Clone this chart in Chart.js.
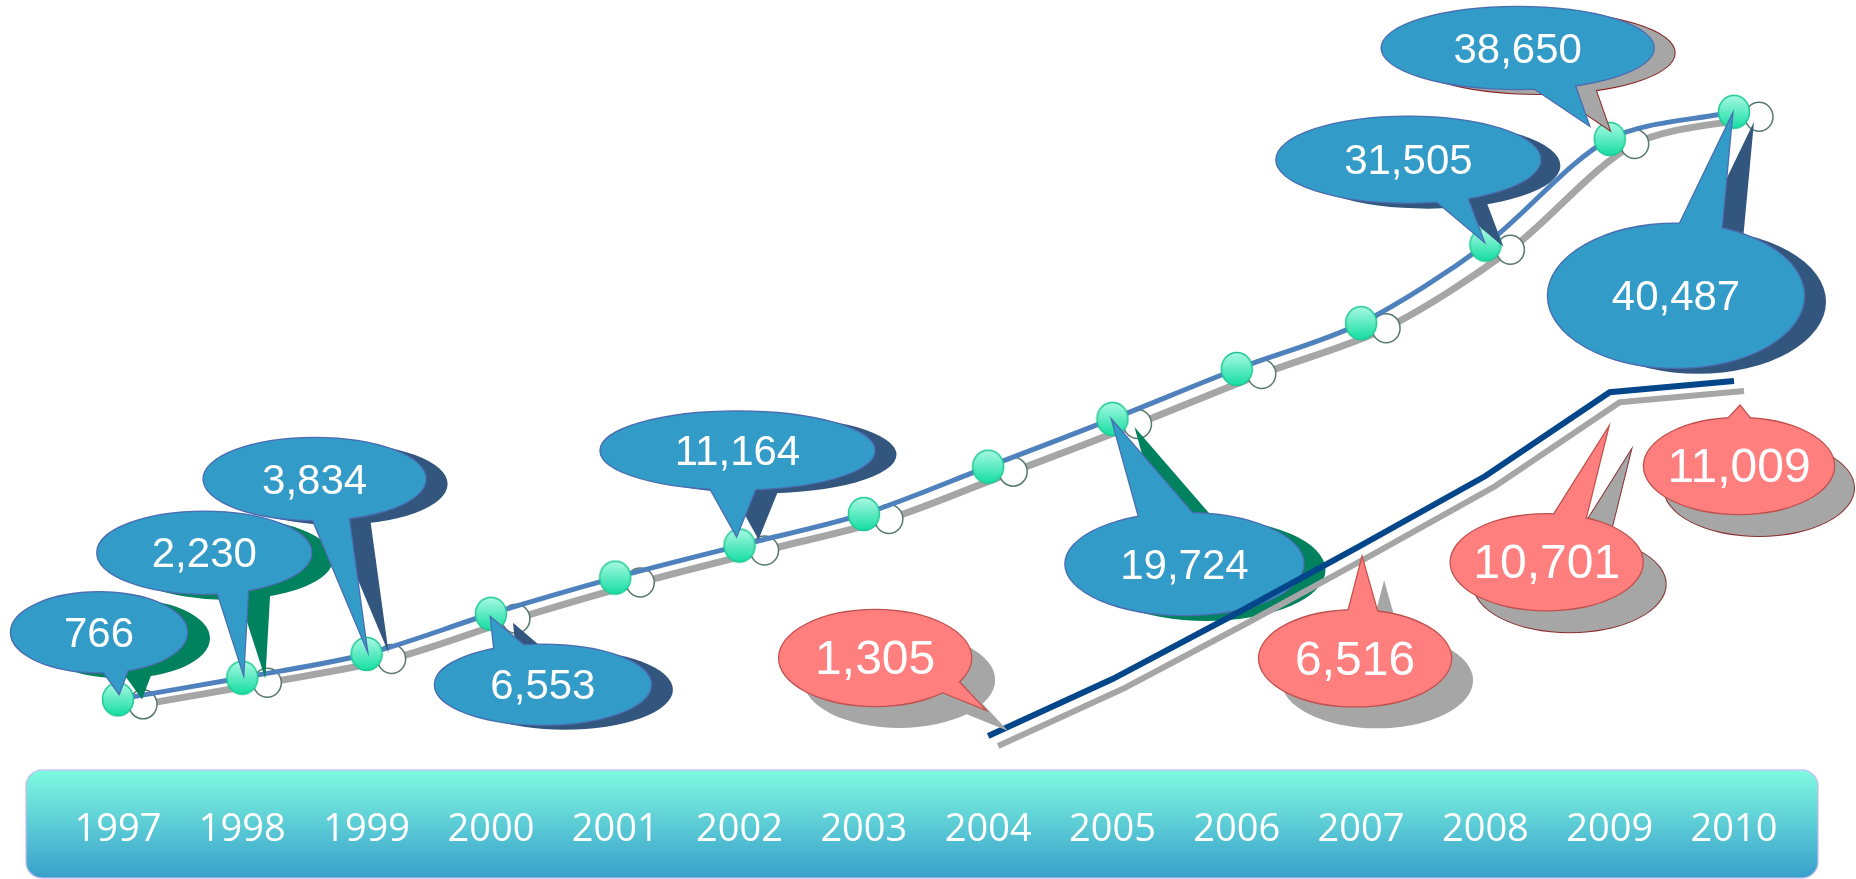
<!DOCTYPE html>
<html>
<head>
<meta charset="utf-8">
<title>1997-2010</title>
<script src="https://cdn.jsdelivr.net/npm/chart.js@4.4.1/dist/chart.umd.min.js"></script>
<style>
  html, body { margin: 0; padding: 0; background: #fff; }
  #chart { display: block; }
</style>
</head>
<body>
<canvas id="chart" width="1856" height="879"></canvas>
<script>
const years = ['1997', '1998', '1999', '2000', '2001', '2002', '2003',
               '2004', '2005', '2006', '2007', '2008', '2009', '2010'];

// upper curve (years without a callout are read off the curve)
const totalValues = [766, 2230, 3834, 6553, 9000, 11164, 13300,
                     16500, 19724, 23100, 26200, 31505, 38650, 40487];

// lower line, starts in 2004
const lowerValues = [null, null, null, null, null, null, null,
                     1305, 2860, 4660, 6516, 8410, 10701, 11009];

// points that carry a value callout
const totalCallouts = [0, 1, 2, 3, 5, 8, 11, 12, 13];
const lowerCallouts = [7, 10, 12, 13];

// callout shapes, offsets from the point they belong to
const NAVY = '#33567f', GREEN = '#00825f', GREY = '#a6a6a6';
const blueBubble = {
    0:  { c: [-19, -67],  rx: 88,  ry: 40, b1: [-20, -35],  b2: [12, -35],   tip: [1, -6],   sh: [23, 6], col: GREEN },
    1:  { c: [-38, -125], rx: 107, ry: 41, b1: [-27, -92],  b2: [6, -92],    tip: [1, -5],   sh: [22, 6], col: GREEN },
    2:  { c: [-52, -175], rx: 111, ry: 41, b1: [-57, -142], b2: [-19, -144], tip: [0, -6],   sh: [22, 5], col: NAVY },
    3:  { c: [52, 71],    rx: 108, ry: 40, b1: [4, 41],     b2: [40, 38],    tip: [0, 4],    sh: [22, 5], col: NAVY },
    5:  { c: [-2, -95],   rx: 137, ry: 39, b1: [-32, -62],  b2: [18, -62],   tip: [-3, -10], sh: [22, 4], col: NAVY },
    8:  { c: [72, 145],   rx: 119, ry: 51, b1: [28, 103],   b2: [84, 99],    tip: [0, 2],    sh: [22, 6], col: GREEN },
    11: { c: [-77, -85],  rx: 132, ry: 43, b1: [-53, -47],  b2: [-19, -49],  tip: [-2, -4],  sh: [20, 6], col: NAVY },
    12: { c: [-92, -91],  rx: 136, ry: 41, b1: [-82, -55],  b2: [-36, -57],  tip: [-21, -14], sh: [21, 5], col: GREY, edge: '#8b2525' },
    13: { c: [-58, 184],  rx: 128, ry: 72, b1: [-58, 120],  b2: [-13, 122],  tip: [-2, 4],   sh: [22, 6], col: NAVY }
};
const pinkBubble = {
    7:  { c: [-113, -78], rx: 96, ry: 48, b1: [-51, -46], b2: [-33, -58], tip: [-4, -27], sh: [24, 22], col: GREY },
    10: { c: [-6, 113],   rx: 96, ry: 48, b1: [-14, 71],  b2: [18, 73],   tip: [1, 13],   sh: [22, 22], col: GREY },
    12: { c: [-63, 170],  rx: 96, ry: 48, b1: [-58, 126], b2: [-25, 130], tip: [-2, 37],  sh: [23, 22], col: GREY, edge: '#8b2f2f' },
    13: { c: [5, 85],     rx: 95, ry: 48, b1: [-9, 41],   b2: [19, 41],   tip: [6, 25],   sh: [20, 22], col: GREY, edge: '#8b2f2f' }
};

// round aqua marker used as point style
function makeMarker() {
    const c = document.createElement('canvas');
    c.width = 34; c.height = 36;
    const g = c.getContext('2d');
    const grad = g.createLinearGradient(0, 2, 0, 34);
    grad.addColorStop(0, '#a6f9e2');
    grad.addColorStop(1, '#17dea3');
    g.beginPath();
    g.ellipse(17, 18, 15.5, 16.5, 0, 0, Math.PI * 2);
    g.fillStyle = grad;
    g.fill();
    g.lineWidth = 1.5;
    g.strokeStyle = '#1fc993';
    g.stroke();
    return c;
}

function drawBubble(ctx, p, s, fill, stroke, text, fontPx) {
    const ellipse = (ox, oy) => {
        ctx.beginPath();
        ctx.ellipse(p.x + s.c[0] + ox, p.y + s.c[1] + oy, s.rx, s.ry, 0, 0, Math.PI * 2);
    };
    const tail = (ox, oy) => {
        ctx.beginPath();
        ctx.moveTo(p.x + s.b1[0] + ox, p.y + s.b1[1] + oy);
        ctx.lineTo(p.x + s.tip[0] + ox, p.y + s.tip[1] + oy);
        ctx.lineTo(p.x + s.b2[0] + ox, p.y + s.b2[1] + oy);
        ctx.closePath();
    };
    ctx.save();
    // solid offset shadow
    const [sx, sy] = s.sh;
    if (s.edge) {
        ctx.strokeStyle = s.edge;
        ctx.lineWidth = 2;
        ellipse(sx, sy); ctx.stroke();
        tail(sx, sy); ctx.stroke();
    }
    ctx.fillStyle = s.col;
    ellipse(sx, sy); ctx.fill();
    tail(sx, sy); ctx.fill();
    // bubble
    ctx.strokeStyle = stroke;
    ctx.lineWidth = 2.5;
    ellipse(0, 0); ctx.stroke();
    tail(0, 0); ctx.stroke();
    ctx.fillStyle = fill;
    ellipse(0, 0); ctx.fill();
    tail(0, 0); ctx.fill();
    // value
    ctx.fillStyle = '#ffffff';
    ctx.font = fontPx + 'px "Liberation Sans", Arial, sans-serif';
    ctx.textAlign = 'center';
    ctx.textBaseline = 'middle';
    ctx.fillText(text, p.x + s.c[0], p.y + s.c[1] + 3);
    ctx.restore();
}

function strokeShadow(ctx, pts, dx, dy, width, curved) {
    ctx.save();
    ctx.translate(dx, dy);
    ctx.strokeStyle = GREY;
    ctx.lineWidth = width;
    ctx.lineJoin = 'round';
    ctx.beginPath();
    let prev = null;
    pts.forEach(pt => {
        if (pt.skip) { prev = null; return; }
        if (!prev) ctx.moveTo(pt.x, pt.y);
        else if (curved) ctx.bezierCurveTo(prev.cp2x, prev.cp2y, pt.cp1x, pt.cp1y, pt.x, pt.y);
        else ctx.lineTo(pt.x, pt.y);
        prev = pt;
    });
    ctx.stroke();
    ctx.restore();
}

const calloutPlugin = {
    id: 'callouts',
    beforeDraw(chart) {
        // rounded gradient band behind the year labels
        const { ctx, width } = chart;
        const top = chart.scales.x.top - 1;
        const left = 26, right = width - 38, bottom = 878;
        const grad = ctx.createLinearGradient(0, top, 0, bottom);
        grad.addColorStop(0, '#80fae0');
        grad.addColorStop(1, '#389fcb');
        ctx.save();
        ctx.beginPath();
        ctx.roundRect(left, top, right - left, bottom - top, 16);
        ctx.fillStyle = grad;
        ctx.fill();
        ctx.strokeStyle = 'rgba(196, 186, 240, 0.8)';
        ctx.lineWidth = 1.5;
        ctx.stroke();
        ctx.restore();
    },
    beforeDatasetDraw(chart, args) {
        const ctx = chart.ctx;
        const pts = args.meta.data;
        if (args.meta.index === 0) {
            strokeShadow(ctx, pts, 25, 5, 7, true);
            ctx.save();
            pts.forEach(pt => {
                ctx.beginPath();
                ctx.ellipse(pt.x + 25, pt.y + 5, 14, 14.5, 0, 0, Math.PI * 2);
                ctx.fillStyle = '#ffffff';
                ctx.fill();
                ctx.lineWidth = 1.5;
                ctx.strokeStyle = '#57786e';
                ctx.stroke();
            });
            ctx.restore();
        } else {
            strokeShadow(ctx, pts, 10, 10, 6, false);
        }
    },
    afterDatasetDraw(chart, args) {
        const ctx = chart.ctx;
        const pts = args.meta.data;
        if (args.meta.index === 0) {
            totalCallouts.forEach(i => {
                drawBubble(ctx, pts[i], blueBubble[i], '#339bc8', '#4a6cb0',
                           totalValues[i].toLocaleString('en-US'), 42);
            });
        } else {
            lowerCallouts.forEach(i => {
                drawBubble(ctx, pts[i], pinkBubble[i], '#ff7f7f', '#c0504d',
                           lowerValues[i].toLocaleString('en-US'), 48);
            });
        }
    }
};

new Chart(document.getElementById('chart'), {
    type: 'line',
    data: {
        labels: years,
        datasets: [
            {
                label: 'total',
                data: totalValues,
                yAxisID: 'y',
                order: 1,
                borderColor: '#4f81bd',
                borderWidth: 5,
                tension: 0.3,
                pointStyle: makeMarker(),
                pointRadius: 16,
                clip: false,
            },
            {
                label: 'lower',
                data: lowerValues,
                yAxisID: 'y2',
                order: 0,
                borderColor: '#03468a',
                borderWidth: 6,
                tension: 0,
                pointRadius: 0,
                clip: false,
            },
        ],
    },
    options: {
        responsive: false,
        animation: false,
        devicePixelRatio: 1,
        layout: { autoPadding: false, padding: { left: 118, right: 122, top: 0, bottom: 0 } },
        plugins: {
            legend: { display: false },
            tooltip: { enabled: false },
        },
        scales: {
            x: {
                grid: { display: false, drawTicks: false },
                border: { display: false },
                ticks: {
                    color: '#ffffff',
                    font: { family: '"Open Sans", "Noto Sans", sans-serif', size: 38 },
                    padding: 36,
                    maxRotation: 0,
                    autoSkip: false,
                },
                afterFit(scale) {
                    scale.height = 108;
                    scale.paddingLeft = 0;
                    scale.paddingRight = 0;
                },
            },
            y: { display: false, min: -4077, max: 48046 },
            y2: { display: false, min: 347, max: 21424 },
        },
    },
    plugins: [calloutPlugin],
});
</script>
</body>
</html>
